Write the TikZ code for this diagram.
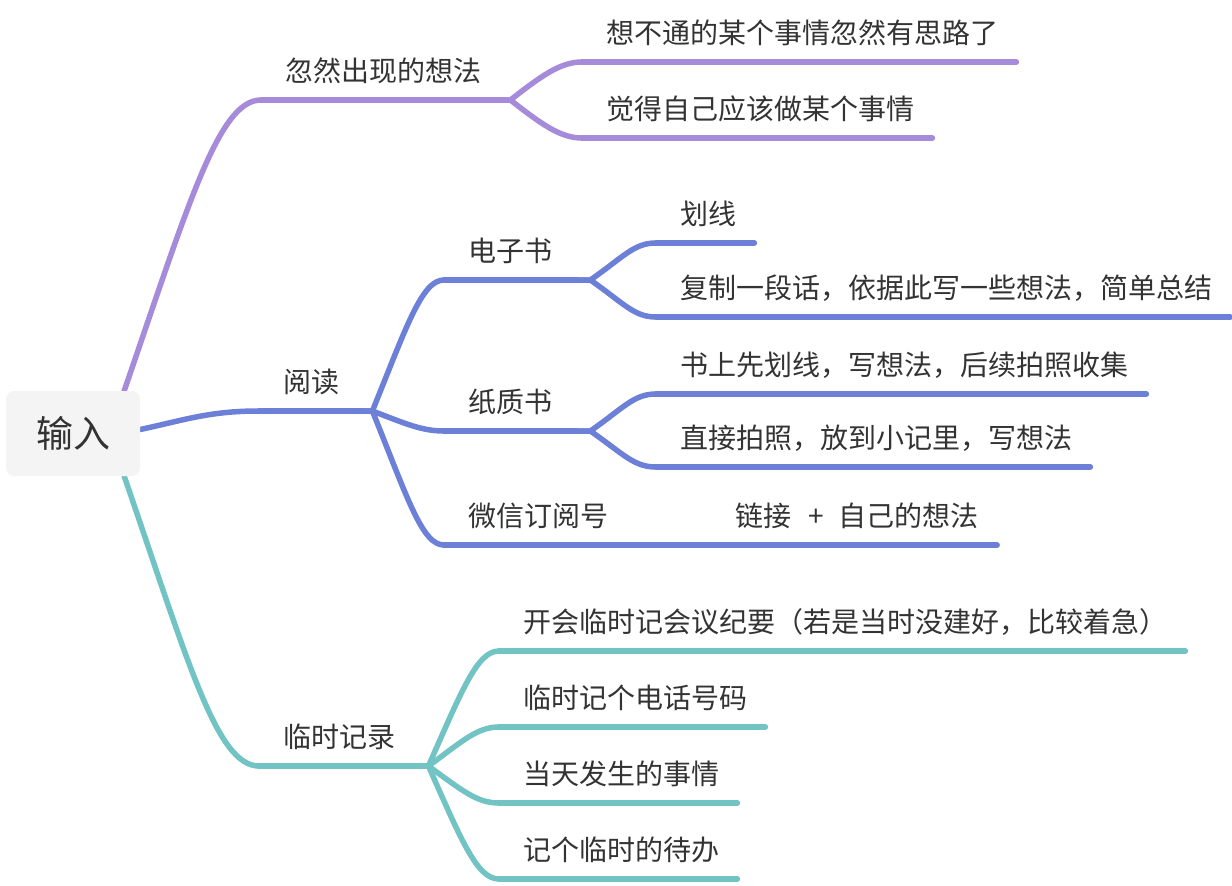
\documentclass[tikz,border=0pt]{standalone}
\usepackage{fontspec}
\setmainfont{Noto Sans CJK SC}
\usetikzlibrary{backgrounds}

\definecolor{rootfill}{HTML}{F4F4F4}
\definecolor{idea}{HTML}{A68BDB}
\definecolor{read}{HTML}{6C80D8}
\definecolor{memo}{HTML}{72C4C4}
\definecolor{txt}{HTML}{333333}

\tikzset{
  topic/.style={anchor=south west,inner xsep=24pt,inner ysep=18pt,text depth=0pt,
    text=txt,font=\fontsize{28pt}{34pt}\selectfont},
  link/.style={line width=5.5pt,line cap=round,draw=#1},
}

\begin{document}
\begin{tikzpicture}[x=1pt,y=-1pt]
  \useasboundingbox (0,0) rectangle (1232,886);

  \node[fill=rootfill,rounded corners=8pt,minimum width=134pt,minimum height=85pt,
    text=txt,font=\fontsize{37pt}{44pt}\selectfont] (root) at (73,433.5) {输入};

  \node[topic] (n1) at (261,100) {忽然出现的想法};
  \node[topic] (n11) at (582,62) {想不通的某个事情忽然有思路了};
  \node[topic] (n12) at (582,138) {觉得自己应该做某个事情};

  \node[topic] (n2) at (259,411) {阅读};
  \node[topic] (n21) at (444,280) {电子书};
  \node[topic] (n211) at (656,243) {划线};
  \node[topic] (n212) at (656,317) {复制一段话，依据此写一些想法，简单总结};
  \node[topic] (n22) at (444,431) {纸质书};
  \node[topic] (n221) at (656,394) {书上先划线，写想法，后续拍照收集};
  \node[topic] (n222) at (656,467) {直接拍照，放到小记里，写想法};
  \node[topic] (n23) at (444,545) {微信订阅号};
  \node[topic] (n231) at (711,545) {链接\hspace{0.6em}+\hspace{0.55em}自己的想法};

  \node[topic] (n3) at (259,766) {临时记录};
  \node[topic] (n31) at (499,651) {开会临时记会议纪要（若是当时没建好，比较着急）};
  \node[topic] (n32) at (499,727) {临时记个电话号码};
  \node[topic] (n33) at (499,803) {当天发生的事情};
  \node[topic] (n34) at (499,879) {记个临时的待办};

  % from the root, behind the box
  \begin{scope}[on background layer]
    \draw[link=idea] ([xshift=-16pt]root.north east) to[out=71,in=180,out distance=200pt,in distance=42pt] (n1.south west);
    \draw[link=read] ([yshift=4pt]root.east) to[out=12,in=180,out distance=45pt,in distance=50pt] (n2.south west);
    \draw[link=memo] ([xshift=-16pt]root.south east) to[out=-71,in=180,out distance=200pt,in distance=42pt] (n3.south west);
  \end{scope}

  % underlines
  \draw[link=idea] (n1.south west) -- (n1.south east);
  \draw[link=idea] (n11.south west) -- ([xshift=-6pt]n11.south east);
  \draw[link=idea] (n12.south west) -- ([xshift=-6pt]n12.south east);
  \draw[link=read] (n2.south west) -- (n2.south east);
  \draw[link=read] (n21.south west) -- (n21.south east);
  \draw[link=read] (n211.south west) -- ([xshift=-6pt]n211.south east);
  \draw[link=read] (n212.south west) -- ([xshift=-6pt]n212.south east);
  \draw[link=read] (n22.south west) -- (n22.south east);
  \draw[link=read] (n221.south west) -- ([xshift=-6pt]n221.south east);
  \draw[link=read] (n222.south west) -- ([xshift=-6pt]n222.south east);
  \draw[link=read] (n23.south west) -- (n23.south east);
  \draw[link=read] (n231.south west) -- ([xshift=-6pt]n231.south east);
  \draw[link=memo] (n3.south west) -- (n3.south east);
  \draw[link=memo] (n31.south west) -- ([xshift=-6pt]n31.south east);
  \draw[link=memo] (n32.south west) -- ([xshift=-6pt]n32.south east);
  \draw[link=memo] (n33.south west) -- ([xshift=-6pt]n33.south east);
  \draw[link=memo] (n34.south west) -- ([xshift=-6pt]n34.south east);

  % forks
  \draw[link=idea] (n1.south east) -- ++(5,0) to[out=38,in=180,out distance=41pt,in distance=21pt] (n11.south west);
  \draw[link=idea] (n1.south east) -- ++(5,0) to[out=-38,in=180,out distance=41pt,in distance=21pt] (n12.south west);

  \draw[link=read] (n2.south east) -- ++(9,0) to[out=68,in=180,out distance=92pt,in distance=22pt] (n21.south west);
  \draw[link=read] (n2.south east) -- ++(9,0) to[out=-21,in=180,out distance=36pt,in distance=22pt] (n22.south west);
  \draw[link=read] (n2.south east) -- ++(9,0) to[out=-68,in=180,out distance=94pt,in distance=22pt] (n23.south west);

  \draw[link=read] (n21.south east) -- ++(14,0) to[out=35,in=180,out distance=41pt,in distance=22pt] (n211.south west);
  \draw[link=read] (n21.south east) -- ++(14,0) to[out=-35,in=180,out distance=41pt,in distance=22pt] (n212.south west);
  \draw[link=read] (n22.south east) -- ++(14,0) to[out=35,in=180,out distance=41pt,in distance=22pt] (n221.south west);
  \draw[link=read] (n22.south east) -- ++(14,0) to[out=-35,in=180,out distance=41pt,in distance=22pt] (n222.south west);
  \draw[link=read] (n23.south east) -- (n231.south west);

  \draw[link=memo] (n3.south east) -- ++(9,0) to[out=66,in=180,out distance=82pt,in distance=22pt] (n31.south west);
  \draw[link=memo] (n3.south east) -- ++(9,0) to[out=36,in=180,out distance=42pt,in distance=22pt] (n32.south west);
  \draw[link=memo] (n3.south east) -- ++(9,0) to[out=-36,in=180,out distance=42pt,in distance=22pt] (n33.south west);
  \draw[link=memo] (n3.south east) -- ++(9,0) to[out=-66,in=180,out distance=82pt,in distance=22pt] (n34.south west);
\end{tikzpicture}
\end{document}
